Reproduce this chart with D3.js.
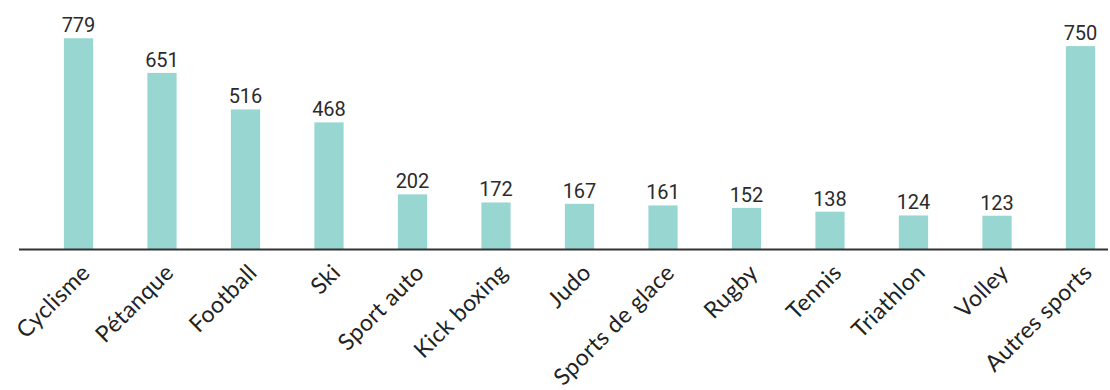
<!DOCTYPE html>
<html>
<head>
<meta charset="utf-8">
<script src="https://cdn.jsdelivr.net/npm/d3@7"></script>
<style>
  body { margin: 0; background: #fff; }
  .value { font-family: Roboto, sans-serif; font-size: 20px; fill: #2b2b2b; }
  .cat { font-family: Lato, sans-serif; font-size: 23px; fill: #222; letter-spacing: 0.4px; }
</style>
</head>
<body>
<svg id="chart" width="1110" height="390"></svg>
<script>
var sports = ['Cyclisme', 'Pétanque', 'Football', 'Ski', 'Sport auto', 'Kick boxing', 'Judo',
  'Sports de glace', 'Rugby', 'Tennis', 'Triathlon', 'Volley', 'Autres sports'];
var counts = [779, 651, 516, 468, 202, 172, 167, 161, 152, 138, 124, 123, 750];

var svg = d3.select('#chart');
var baseY = 249;

var x = d3.scaleBand()
  .domain(sports)
  .range([36.75, 1122.25])
  .paddingInner(0.65)
  .paddingOuter(0.325);

var y = d3.scaleLinear()
  .domain([0, 780])
  .range([baseY, 38]);

var data = sports.map(function(s, i) { return { name: s, value: counts[i] }; });

// bars
svg.append('g').selectAll('rect')
  .data(data)
  .enter().append('rect')
  .attr('x', d => x(d.name))
  .attr('y', d => y(d.value))
  .attr('width', x.bandwidth())
  .attr('height', d => baseY - y(d.value))
  .attr('fill', '#97d6d1');

// value labels
svg.append('g').selectAll('text')
  .data(data)
  .enter().append('text')
  .attr('class', 'value')
  .attr('x', d => x(d.name) + x.bandwidth() / 2)
  .attr('y', d => y(d.value) - 6)
  .attr('text-anchor', 'middle')
  .text(d => d.value);

// baseline
svg.append('line')
  .attr('x1', 19).attr('x2', 1108)
  .attr('y1', baseY + 0.5).attr('y2', baseY + 0.5)
  .attr('stroke', '#333')
  .attr('stroke-width', 2);

// category labels, rotated
svg.append('g').selectAll('text')
  .data(data)
  .enter().append('text')
  .attr('class', 'cat')
  .attr('text-anchor', 'end')
  .attr('transform', d => {
    var cx = x(d.name) + x.bandwidth() / 2 + 13;
    return 'translate(' + cx + ',' + (baseY + 25) + ') rotate(-45)';
  })
  .text(d => d.name);
</script>
</body>
</html>
